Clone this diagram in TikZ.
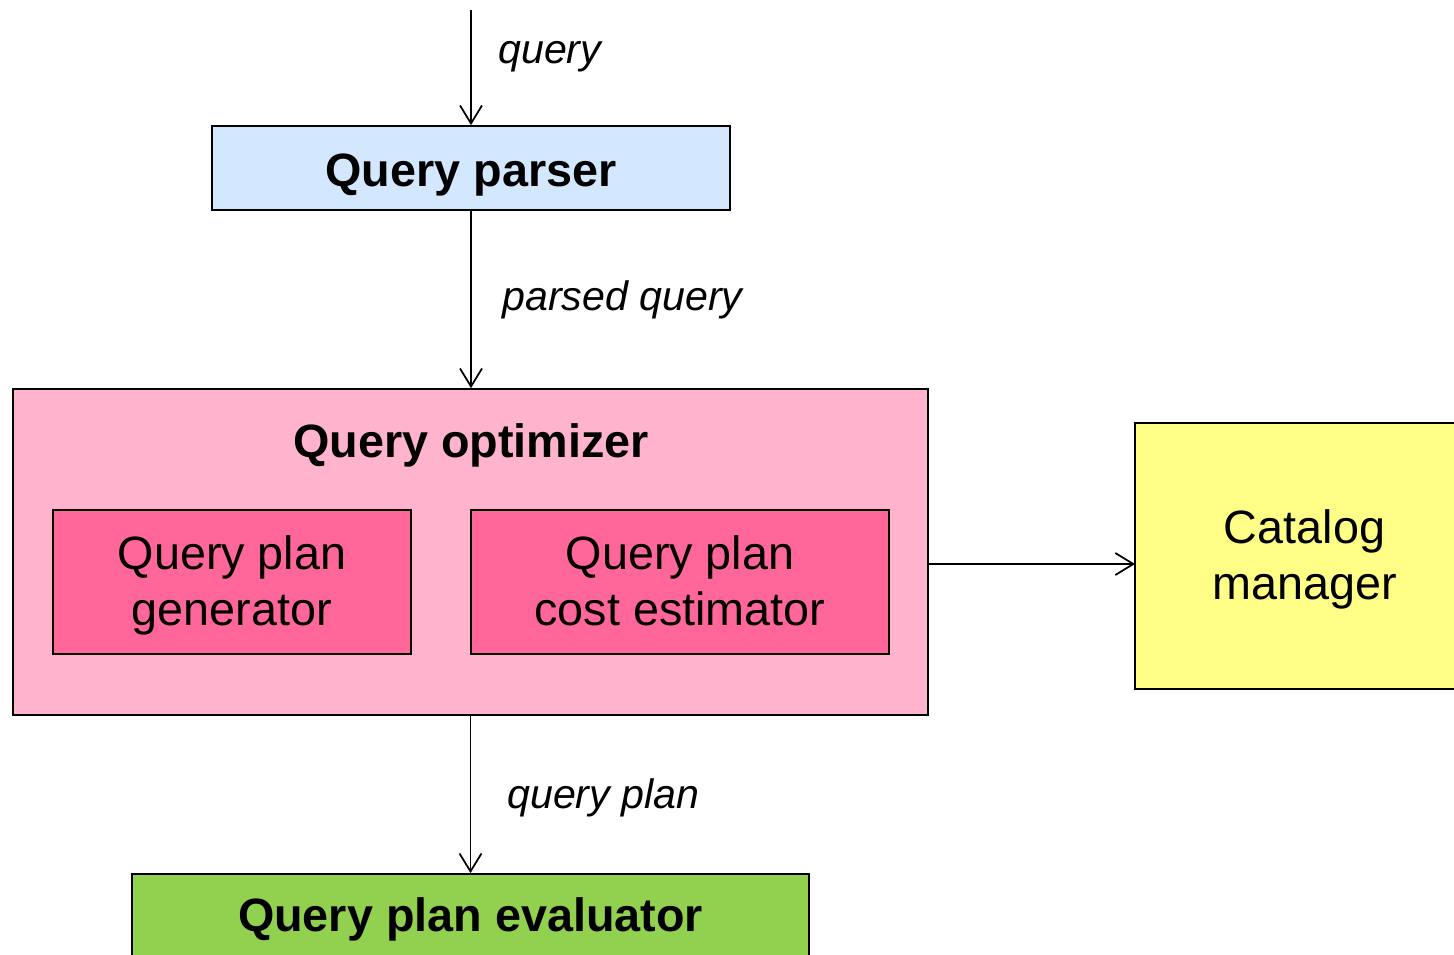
\documentclass[tikz,border=0pt]{standalone}
\usepackage{fontspec}
\setmainfont{Liberation Sans}
\usepackage{tikz}
\usetikzlibrary{arrows.meta}
\usetikzlibrary{positioning}

\definecolor{parsercol}{RGB}{211,232,255}
\definecolor{optcol}{RGB}{255,179,204}
\definecolor{innercol}{RGB}{255,102,153}
\definecolor{catcol}{RGB}{255,255,136}
\definecolor{evalcol}{RGB}{146,208,80}

\tikzset{
  box/.style={draw=black, line width=1pt, inner sep=0pt, align=center,
    text height=50pt, text depth=0pt,
    font=\fontsize{26.6}{31.9}\selectfont},
  boldbox/.style={box, text height=21.6pt,
    font=\fontsize{26.6}{31.9}\selectfont\bfseries},
  flowlabel/.style={anchor=base west, inner sep=0pt, font=\fontsize{23.4}{28}\selectfont\itshape},
  arr/.style={-{Straight Barb[length=0.36cm, width=0.44cm]}, line width=1pt}
}

\begin{document}
\begin{tikzpicture}[x=0.02cm, y=-0.02cm]
  \useasboundingbox (0,0) rectangle (1454,954);

  \def\midx{471}

  % main blocks
  \node[boldbox, fill=parsercol, minimum width=10.36cm, minimum height=1.68cm] (parser) at (\midx,168) {Query parser};
  \node[box, fill=optcol, minimum width=18.3cm, minimum height=6.52cm] (opt) at (470.5,552) {};
  \node[anchor=base, inner sep=0pt, font=\fontsize{26.6}{31.9}\selectfont\bfseries] (opttitle) at (\midx,457) {Query optimizer};
  \node[box, fill=innercol, minimum width=7.16cm, minimum height=2.88cm] (gen) at (232,582) {Query plan\\generator};
  \node[box, fill=innercol, minimum width=8.36cm, minimum height=2.88cm] (est) at (680,582) {Query plan\\cost estimator};
  \node[box, fill=catcol, minimum width=6.78cm, minimum height=5.32cm] (cat) at (1304.5,556) {Catalog\\manager};
  \node[boldbox, fill=evalcol, text height=13.6pt, minimum width=13.54cm, minimum height=1.84cm] (eval) at (470.5,920) {Query plan evaluator};

  % connectors
  \coordinate (qin) at (\midx,10);
  \coordinate (catin) at (1135,564);
  \draw[arr] (qin) -- (parser.north);
  \draw[arr] (parser.south) -- (parser.south |- opt.north);
  \draw[arr] (opt.east |- catin) -- (catin);
  \draw[arr] (opt.south) -- (eval.north);

  % labels
  \node[flowlabel] (lquery) at (498,63) {query};
  \node[flowlabel] (lparsed) at (502,310) {parsed query};
  \node[flowlabel] (lplan) at (507,808) {query plan};
\end{tikzpicture}
\end{document}
